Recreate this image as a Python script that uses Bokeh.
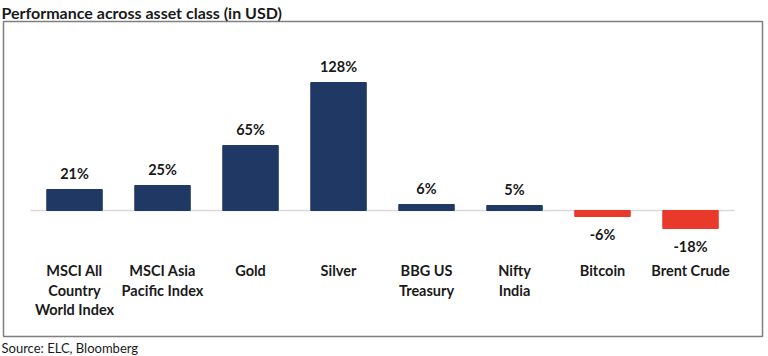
from bokeh.plotting import figure
from bokeh.models import ColumnDataSource, Range1d, Title
from bokeh.core.properties import value
from bokeh.embed import file_html
from bokeh.resources import INLINE

categories = ["MSCI All\nCountry\nWorld Index", "MSCI Asia\nPacific Index", "Gold", "Silver",
              "BBG US\nTreasury", "Nifty\nIndia", "Bitcoin", "Brent Crude"]
values = [21, 25, 65, 128, 6, 5, -6, -18]
value_labels = ["21%", "25%", "65%", "128%", "6%", "5%", "-6%", "-18%"]

NAVY = "#1f3864"
RED = "#e8392b"
FONT = "Lato"

xs = list(range(len(categories)))
colors = [NAVY if v >= 0 else RED for v in values]
src = ColumnDataSource(dict(x=xs, top=values, color=colors))

p = figure(width=768, height=356, output_backend="svg", toolbar_location=None,
           x_range=Range1d(-0.807, 7.818), y_range=Range1d(-126, 189),
           min_border_left=3, min_border_right=6, min_border_top=0, min_border_bottom=0)
p.title = Title(text="Performance across asset class (in USD)", align="left", offset=-2,
                text_font=FONT, text_font_size="16px", text_font_style="bold", text_color="#1a1a1a",
                standoff=0)
p.add_layout(Title(text="Source: ELC, Bloomberg", align="left", offset=-2,
                   text_font=FONT, text_font_size="13px", text_font_style="normal", text_color="#1a1a1a",
                   standoff=2), "below")
p.xaxis.visible = False
p.yaxis.visible = False
p.xgrid.visible = False
p.ygrid.visible = False
p.outline_line_color = "#7f7f7f"
p.outline_line_width = 1.5
p.background_fill_color = "white"
p.border_fill_color = "white"

# baseline
p.segment(x0=[-0.5], y0=[0], x1=[len(categories) - 0.5], y1=[0], line_color="#d9d9d9", line_width=1.5)

p.vbar(x="x", top="top", bottom=0, width=0.63, color="color", source=src)

# value labels
ly = [v + 16 if v >= 0 else v - 18 for v in values]
p.text(x=xs, y=ly, text=value_labels, text_align="center", text_baseline="middle",
       text_font=value(FONT), text_font_size="14.5px", text_font_style="bold", text_color="#1a1a1a")

# category labels (one row per line)
cx, cy, ct = [], [], []
for i, c in enumerate(categories):
    for j, line in enumerate(c.split("\n")):
        cx.append(i)
        cy.append(-60 - 19.5 * j)
        ct.append(line)
p.text(x=cx, y=cy, text=ct, text_align="center", text_baseline="middle",
       text_font=value(FONT), text_font_size="14.5px", text_font_style="bold", text_color="#1a1a1a")

open("out.html", "w").write(file_html(p, INLINE))
